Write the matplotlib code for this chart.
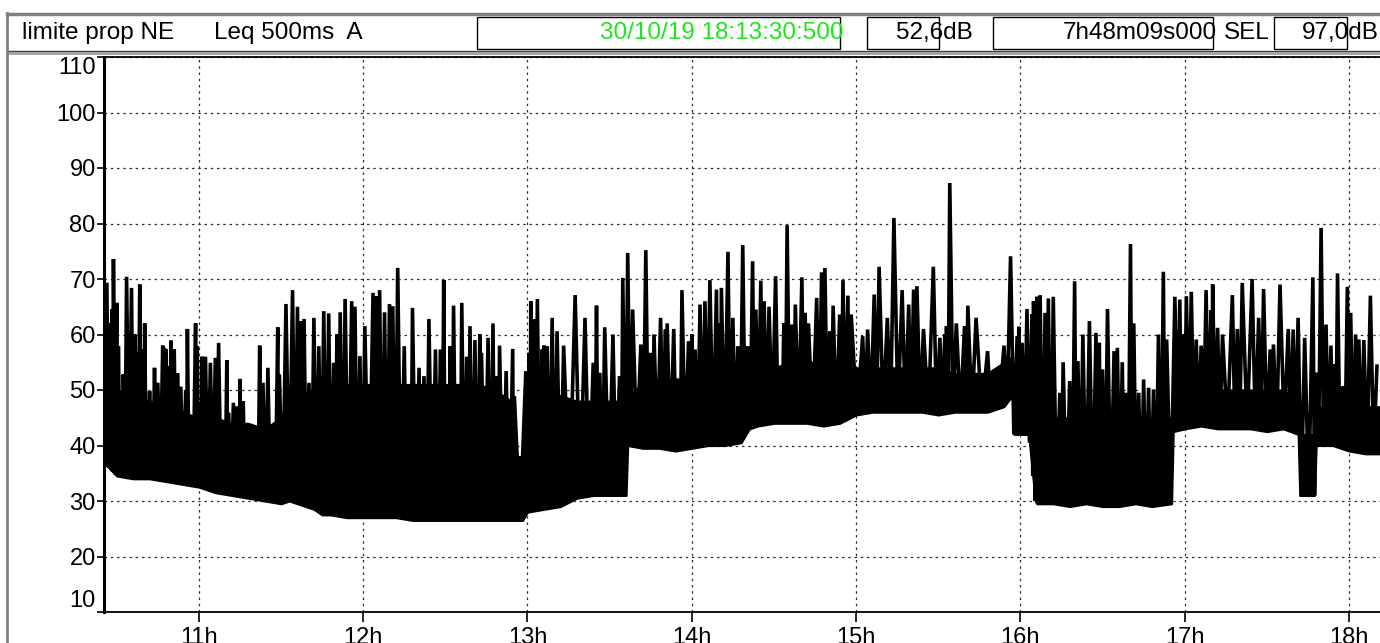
import numpy as np
import matplotlib.pyplot as plt
from matplotlib.patches import Rectangle

plt.rcParams['font.family'] = ['Liberation Sans', 'DejaVu Sans']

# Leq 500ms (dB A) envelope read from the recording: time in hours, floor and dense top
t = [10.42, 10.50, 10.60, 10.70, 10.80, 10.90, 11.00, 11.10, 11.20, 11.30,
     11.40, 11.50, 11.55, 11.60, 11.70, 11.75, 11.80, 11.90, 12.00, 12.10,
     12.20, 12.30, 12.40, 12.50, 12.60, 12.70, 12.80, 12.90, 12.93, 12.97,
     13.00, 13.10, 13.20, 13.30, 13.40, 13.50, 13.60, 13.61, 13.70, 13.80,
     13.90, 14.00, 14.10, 14.20, 14.30, 14.35, 14.40, 14.50, 14.60, 14.70,
     14.80, 14.90, 15.00, 15.10, 15.20, 15.30, 15.40, 15.50, 15.60, 15.70,
     15.80, 15.90, 15.95, 15.96, 16.05, 16.09, 16.10, 16.20, 16.30, 16.40,
     16.50, 16.60, 16.70, 16.80, 16.92, 16.93, 17.00, 17.10, 17.20, 17.30,
     17.40, 17.50, 17.60, 17.69, 17.70, 17.79, 17.80, 17.90, 18.00, 18.10,
     18.22]
lo = [37.0, 34.5, 34.0, 34.0, 33.5, 33.0, 32.5, 31.5, 31.0, 30.5,
      30.0, 29.5, 30.0, 29.5, 28.5, 27.5, 27.5, 27.0, 27.0, 27.0,
      27.0, 26.5, 26.5, 26.5, 26.5, 26.5, 26.5, 26.5, 26.5, 26.5,
      28.0, 28.5, 29.0, 30.5, 31.0, 31.0, 31.0, 40.0, 39.5, 39.5,
      39.0, 39.5, 40.0, 40.0, 40.5, 43.0, 43.5, 44.0, 44.0, 44.0,
      43.5, 44.0, 45.5, 46.0, 46.0, 46.0, 46.0, 45.5, 46.0, 46.0,
      46.0, 47.0, 49.0, 42.0, 42.0, 30.0, 29.5, 29.5, 29.0, 29.5,
      29.0, 29.0, 29.5, 29.0, 29.5, 42.5, 43.0, 43.5, 43.0, 43.0,
      43.0, 42.5, 43.0, 42.0, 31.0, 31.0, 40.0, 40.0, 39.0, 38.5,
      38.5]
top = [52.0, 50.0, 49.0, 48.0, 47.0, 46.0, 45.0, 45.0, 44.0, 44.0,
       43.0, 45.0, 48.0, 49.0, 50.0, 50.0, 51.0, 51.0, 51.0, 51.0,
       51.0, 51.0, 51.0, 51.0, 51.0, 51.0, 50.0, 48.0, 38.0, 38.0,
       48.0, 49.0, 49.0, 48.0, 48.0, 48.0, 48.0, 49.0, 51.0, 52.0,
       52.0, 52.0, 53.0, 53.0, 53.0, 54.0, 54.0, 54.0, 55.0, 55.0,
       55.0, 54.0, 54.0, 54.0, 54.0, 54.0, 54.0, 54.0, 53.0, 53.0,
       53.0, 55.0, 56.0, 52.0, 52.0, 47.0, 46.0, 45.0, 45.0, 45.0,
       45.0, 45.0, 45.0, 45.0, 45.0, 49.0, 50.0, 50.0, 50.0, 50.0,
       50.0, 50.0, 50.0, 48.0, 42.0, 42.0, 47.0, 47.0, 47.0, 47.0,
       47.0]

# individual peaks (time in hours, level in dB)
spike_t = [10.44, 10.46, 10.47, 10.48, 10.50, 10.51, 10.53, 10.54, 10.56, 10.59,
           10.61, 10.62, 10.64, 10.66, 10.67, 10.69, 10.70, 10.71, 10.73, 10.75,
           10.78, 10.79, 10.80, 10.81, 10.83, 10.85, 10.87, 10.89, 10.92, 10.93,
           10.95, 10.98, 10.99, 11.01, 11.02, 11.04, 11.07, 11.10, 11.12, 11.15,
           11.17, 11.18, 11.21, 11.23, 11.24, 11.25, 11.27, 11.29, 11.33, 11.35,
           11.37, 11.39, 11.42, 11.45, 11.48, 11.49, 11.53, 11.57, 11.60, 11.62,
           11.64, 11.67, 11.70, 11.73, 11.76, 11.79, 11.82, 11.84, 11.86, 11.89,
           11.93, 11.95, 11.98, 12.01, 12.06, 12.08, 12.10, 12.13, 12.16, 12.18,
           12.21, 12.25, 12.28, 12.30, 12.34, 12.37, 12.40, 12.44, 12.47, 12.49,
           12.51, 12.53, 12.55, 12.58, 12.60, 12.63, 12.65, 12.68, 12.71, 12.72,
           12.76, 12.79, 12.81, 12.83, 12.87, 12.91, 12.92, 12.99, 13.01, 13.02,
           13.04, 13.06, 13.09, 13.10, 13.12, 13.15, 13.18, 13.22, 13.29, 13.35,
           13.40, 13.42, 13.44, 13.47, 13.52, 13.56, 13.58, 13.61, 13.64, 13.69,
           13.72, 13.75, 13.77, 13.81, 13.84, 13.85, 13.89, 13.92, 13.94, 13.98,
           14.00, 14.02, 14.05, 14.08, 14.11, 14.15, 14.17, 14.18, 14.22, 14.25,
           14.28, 14.31, 14.34, 14.37, 14.39, 14.42, 14.44, 14.47, 14.51, 14.54,
           14.56, 14.58, 14.61, 14.63, 14.67, 14.69, 14.71, 14.76, 14.79, 14.81,
           14.84, 14.86, 14.90, 14.92, 14.95, 14.97, 15.04, 15.07, 15.11, 15.14,
           15.19, 15.23, 15.28, 15.32, 15.35, 15.37, 15.41, 15.47, 15.51, 15.54,
           15.55, 15.57, 15.61, 15.66, 15.68, 15.73, 15.80, 15.84, 15.90, 15.94,
           15.98, 15.99, 16.01, 16.04, 16.07, 16.08, 16.10, 16.12, 16.15, 16.17,
           16.20, 16.24, 16.26, 16.30, 16.33, 16.35, 16.38, 16.42, 16.46, 16.48,
           16.50, 16.53, 16.57, 16.59, 16.62, 16.64, 16.67, 16.69, 16.72, 16.75,
           16.78, 16.81, 16.84, 16.87, 16.89, 16.94, 16.97, 16.99, 17.01, 17.04,
           17.07, 17.10, 17.13, 17.16, 17.17, 17.20, 17.23, 17.29, 17.32, 17.35,
           17.41, 17.45, 17.48, 17.52, 17.54, 17.58, 17.63, 17.66, 17.69, 17.73,
           17.78, 17.80, 17.83, 17.86, 17.89, 17.91, 17.93, 17.96, 17.99, 18.01,
           18.04, 18.06, 18.09, 18.13, 18.17]
spike_v = [69.0, 62.0, 64.5, 73.6, 65.7, 57.9, 46.8, 52.8, 70.4, 68.4,
           60.0, 56.7, 69.0, 57.3, 62.0, 45.9, 49.8, 47.7, 54.0, 51.3,
           58.0, 57.6, 57.3, 54.3, 58.9, 57.3, 53.0, 50.6, 50.0, 61.0,
           45.3, 62.0, 57.9, 47.7, 56.0, 56.0, 54.9, 55.8, 58.5, 42.3,
           55.4, 45.9, 47.7, 47.0, 42.9, 52.0, 48.0, 43.8, 42.6, 42.6,
           58.0, 51.3, 54.0, 41.7, 61.3, 52.8, 65.5, 68.0, 65.0, 62.4,
           62.8, 51.3, 63.0, 57.9, 64.2, 63.8, 54.9, 60.0, 64.0, 66.4,
           66.0, 65.0, 56.1, 61.5, 67.5, 66.9, 68.0, 64.0, 65.5, 65.1,
           72.0, 57.9, 48.6, 64.8, 54.0, 52.5, 62.8, 57.3, 57.3, 69.8,
           48.9, 57.9, 65.2, 48.9, 65.7, 56.0, 61.5, 59.0, 60.0, 56.7,
           59.4, 62.0, 52.5, 58.0, 53.4, 57.4, 48.9, 53.4, 56.7, 66.0,
           62.7, 66.4, 57.3, 58.0, 57.9, 63.0, 60.6, 58.0, 67.1, 63.0,
           54.9, 65.2, 53.1, 61.3, 60.0, 52.5, 70.2, 74.7, 64.5, 58.2,
           75.2, 56.7, 60.0, 63.0, 60.9, 62.0, 61.0, 51.3, 68.0, 58.8,
           60.0, 57.3, 65.4, 66.0, 69.8, 68.1, 62.0, 68.4, 74.9, 63.0,
           57.9, 76.1, 57.9, 73.2, 64.5, 69.7, 66.0, 65.0, 70.5, 54.3,
           62.0, 79.7, 61.8, 65.4, 70.3, 63.9, 62.0, 66.6, 71.2, 72.0,
           60.6, 65.2, 63.6, 69.8, 67.0, 63.6, 59.7, 60.9, 67.2, 72.2,
           63.0, 81.0, 68.0, 65.4, 68.1, 68.7, 61.0, 72.2, 59.4, 60.0,
           61.5, 87.3, 62.0, 61.5, 65.2, 63.0, 57.0, 53.7, 58.0, 74.1,
           59.7, 61.4, 58.5, 64.6, 63.6, 66.0, 66.8, 67.1, 63.9, 66.5,
           66.8, 49.5, 55.0, 51.6, 69.6, 55.2, 60.0, 62.4, 60.3, 58.5,
           53.7, 64.6, 57.0, 57.6, 55.0, 49.5, 76.3, 62.0, 49.5, 51.9,
           50.4, 50.1, 60.0, 71.3, 59.1, 66.8, 66.3, 60.0, 66.9, 67.7,
           59.1, 58.0, 68.0, 64.4, 69.0, 61.2, 60.0, 67.1, 61.0, 69.3,
           70.0, 63.0, 68.2, 57.3, 58.2, 69.0, 61.0, 60.9, 63.0, 59.4,
           70.3, 53.1, 79.2, 61.8, 58.0, 54.6, 71.0, 50.7, 68.6, 63.9,
           60.0, 59.1, 59.0, 67.0, 54.3]

hour_ticks = [11, 12, 13, 14, 15, 16, 17, 18]
db_ticks = [10, 20, 30, 40, 50, 60, 70, 80, 90, 100, 110]

fig = plt.figure(figsize=(13.8, 6.43), dpi=100)

# header bar drawn in pixel coordinates
hdr = fig.add_axes([0, 0, 1, 1])
hdr.set_xlim(0, 1380)
hdr.set_ylim(643, 0)
hdr.axis('off')
hdr.plot([7, 1380], [14, 14], color='#808080', lw=2.5)
hdr.plot([7, 1380], [50.5, 50.5], color='#404040', lw=1)
hdr.plot([7, 1380], [53, 53], color='#a0a0a0', lw=2)
hdr.plot([7, 7], [13, 643], color='#808080', lw=2)
for x0, x1 in [(477, 840), (867, 939), (993, 1213), (1274, 1347)]:
    hdr.add_patch(Rectangle((x0, 16.5), x1 - x0, 32.5, fill=False, ec='black', lw=1))
fs = 17.5
hdr.text(22, 33, 'limite prop NE', fontsize=fs, va='center', ha='left')
hdr.text(214, 33, 'Leq 500ms  A', fontsize=fs, va='center', ha='left')
hdr.text(844, 33, '30/10/19 18:13:30:500', fontsize=fs, va='center', ha='right', color='#1ee61e')
hdr.text(973, 33, '52,6dB', fontsize=fs, va='center', ha='right')
hdr.text(1217, 33, '7h48m09s000', fontsize=fs, va='center', ha='right')
hdr.text(1224, 33, 'SEL', fontsize=fs, va='center', ha='left')
hdr.text(1379, 33, '97,0dB', fontsize=fs, va='center', ha='right')

ax = fig.add_axes([104 / 1380, 31 / 643, 1282 / 1380, 555 / 643])
ax.fill_between(t, lo, top, color='black', lw=1.5, zorder=3)

# the signal swings from each peak back down to the floor between peaks
st = np.array(spike_t)
sv = np.array(spike_v)
mid_t = (st[:-1] + st[1:]) / 2
path_t = np.empty(2 * len(st) - 1)
path_v = np.empty(2 * len(st) - 1)
path_t[0::2] = st
path_v[0::2] = sv
path_t[1::2] = mid_t
path_v[1::2] = np.interp(mid_t, t, lo)
ax.plot(path_t, path_v, color='black', lw=2.6, solid_joinstyle='miter', zorder=3)

ax.set_xlim(10.4225, 18.225)
ax.set_ylim(10, 110)
ax.set_xticks(hour_ticks)
ax.set_xticklabels([f'{h}h' for h in hour_ticks])
ax.set_yticks(db_ticks)
ax.set_yticklabels([str(v) for v in db_ticks])
ax.grid(True, color='#303030', linestyle=(0, (2, 3)), lw=0.9, zorder=1)
ax.tick_params(axis='both', direction='out', labelsize=17, width=1.2)
ax.tick_params(axis='x', length=7, pad=4)
ax.tick_params(axis='y', length=5, pad=1)
ylabels = ax.get_yticklabels()
ylabels[0].set_va('bottom')
ylabels[-1].set_va('top')
ax.spines['left'].set_linewidth(2.2)
ax.spines['bottom'].set_linewidth(1.3)
ax.spines['top'].set_linewidth(1.3)
ax.spines['right'].set_visible(False)

fig.savefig('out.png', dpi=100)
